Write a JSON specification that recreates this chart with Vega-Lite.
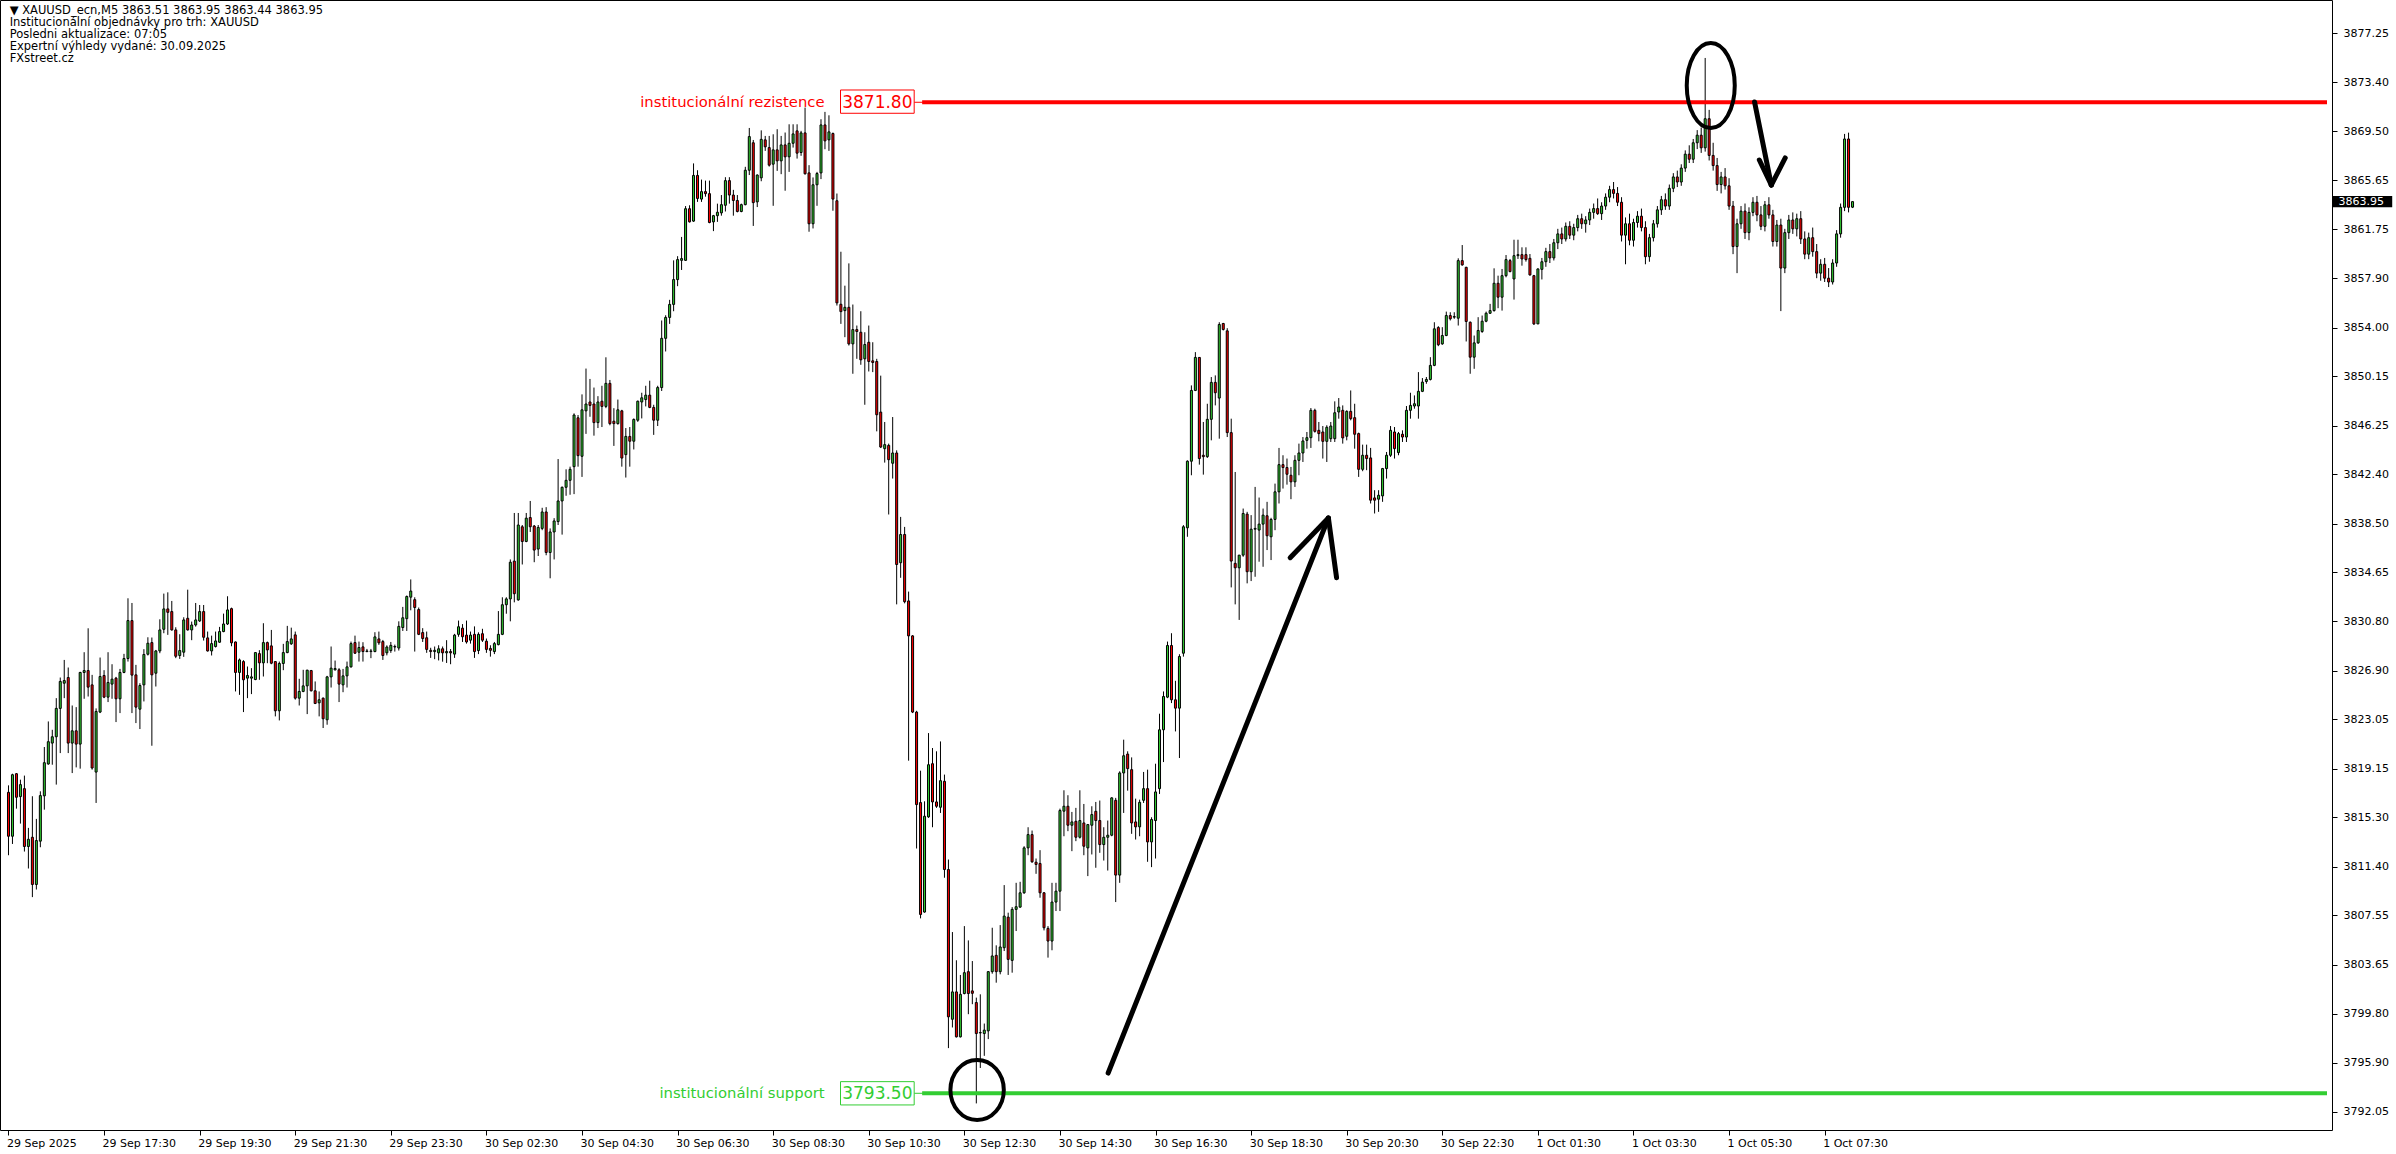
{
"$schema":"https://vega.github.io/schema/vega-lite/v6.json",
"width":2332,"height":1130,
"autosize":{"type":"none"},
"padding":{"left":0,"top":0,"right":64,"bottom":24},
"background":"white",
"config":{"view":{"stroke":"black","strokeWidth":1}},
"datasets":{
"candles":[
{"i":0,"o":3817.28,"h":3817.83,"l":3812.31,"c":3813.81},
{"i":1,"o":3813.81,"h":3818.75,"l":3813.2,"c":3818.67},
{"i":2,"o":3818.75,"h":3818.8,"l":3815.99,"c":3816.89},
{"i":3,"o":3816.94,"h":3818.28,"l":3814.81,"c":3817.89},
{"i":4,"o":3817.57,"h":3818.6,"l":3812.6,"c":3813.0},
{"i":5,"o":3813.0,"h":3814.47,"l":3811.26,"c":3813.57},
{"i":6,"o":3813.73,"h":3816.97,"l":3809.0,"c":3810.0},
{"i":7,"o":3810.0,"h":3815.18,"l":3809.6,"c":3813.47},
{"i":8,"o":3813.42,"h":3817.36,"l":3812.94,"c":3817.02},
{"i":9,"o":3817.0,"h":3820.86,"l":3815.91,"c":3819.62},
{"i":10,"o":3819.52,"h":3822.88,"l":3819.46,"c":3821.28},
{"i":11,"o":3821.17,"h":3822.22,"l":3819.46,"c":3821.67},
{"i":12,"o":3821.67,"h":3824.72,"l":3817.89,"c":3823.91},
{"i":13,"o":3823.91,"h":3826.35,"l":3820.38,"c":3826.04},
{"i":14,"o":3825.9,"h":3827.74,"l":3824.72,"c":3826.11},
{"i":15,"o":3826.35,"h":3827.14,"l":3820.38,"c":3821.17},
{"i":16,"o":3821.17,"h":3824.14,"l":3818.8,"c":3822.14},
{"i":17,"o":3822.14,"h":3824.01,"l":3819.25,"c":3821.09},
{"i":18,"o":3821.09,"h":3826.8,"l":3819.15,"c":3826.75},
{"i":19,"o":3826.75,"h":3828.35,"l":3824.67,"c":3826.9},
{"i":20,"o":3826.9,"h":3830.24,"l":3824.85,"c":3825.59},
{"i":21,"o":3825.77,"h":3826.56,"l":3819.07,"c":3819.2},
{"i":22,"o":3818.88,"h":3823.91,"l":3816.44,"c":3823.67},
{"i":23,"o":3823.62,"h":3827.93,"l":3823.54,"c":3826.43},
{"i":24,"o":3826.51,"h":3826.93,"l":3824.72,"c":3824.8},
{"i":25,"o":3824.8,"h":3828.35,"l":3824.41,"c":3825.96},
{"i":26,"o":3825.83,"h":3827.4,"l":3824.67,"c":3826.22},
{"i":27,"o":3826.3,"h":3826.4,"l":3822.83,"c":3824.67},
{"i":28,"o":3824.67,"h":3827.03,"l":3823.54,"c":3826.75},
{"i":29,"o":3826.75,"h":3828.22,"l":3826.69,"c":3827.85},
{"i":30,"o":3827.85,"h":3832.61,"l":3827.61,"c":3830.85},
{"i":31,"o":3830.85,"h":3832.24,"l":3823.54,"c":3826.54},
{"i":32,"o":3826.56,"h":3827.35,"l":3822.75,"c":3824.01},
{"i":33,"o":3823.85,"h":3825.9,"l":3822.28,"c":3825.72},
{"i":34,"o":3825.77,"h":3828.59,"l":3824.46,"c":3828.17},
{"i":35,"o":3828.19,"h":3829.53,"l":3828.09,"c":3829.06},
{"i":36,"o":3829.11,"h":3829.51,"l":3820.96,"c":3826.56},
{"i":37,"o":3826.69,"h":3828.53,"l":3825.64,"c":3828.45},
{"i":38,"o":3828.45,"h":3830.95,"l":3828.27,"c":3830.11},
{"i":39,"o":3830.16,"h":3832.98,"l":3829.85,"c":3831.77},
{"i":40,"o":3831.77,"h":3833.08,"l":3829.72,"c":3831.5},
{"i":41,"o":3831.56,"h":3832.4,"l":3830.06,"c":3830.11},
{"i":42,"o":3830.11,"h":3830.32,"l":3827.88,"c":3828.03},
{"i":43,"o":3828.09,"h":3829.77,"l":3827.82,"c":3828.48},
{"i":44,"o":3828.35,"h":3831.11,"l":3827.98,"c":3830.9},
{"i":45,"o":3831.03,"h":3833.29,"l":3830.06,"c":3830.11},
{"i":46,"o":3830.11,"h":3830.77,"l":3829.3,"c":3830.5},
{"i":47,"o":3830.5,"h":3832.24,"l":3830.37,"c":3830.9},
{"i":48,"o":3830.82,"h":3832.08,"l":3830.74,"c":3831.56},
{"i":49,"o":3831.56,"h":3832.08,"l":3829.27,"c":3829.53},
{"i":50,"o":3829.48,"h":3829.98,"l":3828.4,"c":3828.45},
{"i":51,"o":3828.45,"h":3829.66,"l":3828.09,"c":3829.03},
{"i":52,"o":3828.8,"h":3829.98,"l":3828.72,"c":3829.24},
{"i":53,"o":3829.14,"h":3830.35,"l":3829.09,"c":3829.98},
{"i":54,"o":3829.98,"h":3831.4,"l":3829.93,"c":3830.58},
{"i":55,"o":3830.58,"h":3832.77,"l":3830.5,"c":3831.69},
{"i":56,"o":3831.79,"h":3831.87,"l":3828.82,"c":3829.09},
{"i":57,"o":3829.16,"h":3829.19,"l":3825.25,"c":3826.75},
{"i":58,"o":3826.75,"h":3827.85,"l":3824.98,"c":3827.74},
{"i":59,"o":3827.61,"h":3827.72,"l":3823.62,"c":3826.17},
{"i":60,"o":3826.3,"h":3827.22,"l":3824.72,"c":3826.51},
{"i":61,"o":3826.3,"h":3827.09,"l":3825.04,"c":3826.4},
{"i":62,"o":3826.19,"h":3828.35,"l":3826.14,"c":3828.32},
{"i":63,"o":3828.24,"h":3828.51,"l":3826.17,"c":3827.51},
{"i":64,"o":3827.51,"h":3830.64,"l":3826.43,"c":3829.11},
{"i":65,"o":3829.11,"h":3829.19,"l":3827.48,"c":3828.53},
{"i":66,"o":3828.85,"h":3830.11,"l":3827.4,"c":3827.48},
{"i":67,"o":3827.61,"h":3827.65,"l":3823.28,"c":3823.72},
{"i":68,"o":3823.72,"h":3827.61,"l":3822.96,"c":3827.46},
{"i":69,"o":3827.46,"h":3829.01,"l":3826.93,"c":3828.32},
{"i":70,"o":3828.32,"h":3830.43,"l":3828.27,"c":3829.19},
{"i":71,"o":3829.01,"h":3830.29,"l":3828.93,"c":3829.4},
{"i":72,"o":3829.72,"h":3829.98,"l":3824.6,"c":3824.72},
{"i":73,"o":3824.72,"h":3826.25,"l":3824.14,"c":3825.25},
{"i":74,"o":3825.25,"h":3826.96,"l":3825.19,"c":3825.69},
{"i":75,"o":3825.69,"h":3826.96,"l":3823.46,"c":3826.93},
{"i":76,"o":3826.9,"h":3826.95,"l":3825.25,"c":3825.3},
{"i":77,"o":3825.3,"h":3826.04,"l":3824.25,"c":3824.3},
{"i":78,"o":3824.35,"h":3825.25,"l":3823.28,"c":3824.59},
{"i":79,"o":3824.72,"h":3824.77,"l":3822.36,"c":3823.09},
{"i":80,"o":3823.01,"h":3826.48,"l":3822.62,"c":3826.4},
{"i":81,"o":3826.4,"h":3828.8,"l":3825.56,"c":3827.09},
{"i":82,"o":3826.96,"h":3827.69,"l":3826.9,"c":3827.06},
{"i":83,"o":3826.96,"h":3827.09,"l":3824.41,"c":3825.83},
{"i":84,"o":3825.77,"h":3827.03,"l":3825.19,"c":3826.48},
{"i":85,"o":3826.48,"h":3827.61,"l":3825.56,"c":3827.19},
{"i":86,"o":3827.19,"h":3829.19,"l":3827.14,"c":3829.03},
{"i":87,"o":3829.11,"h":3829.66,"l":3828.22,"c":3828.27},
{"i":88,"o":3828.35,"h":3829.19,"l":3827.61,"c":3828.72},
{"i":89,"o":3828.77,"h":3829.14,"l":3827.61,"c":3828.4},
{"i":90,"o":3828.4,"h":3828.61,"l":3828.35,"c":3828.45},
{"i":91,"o":3828.4,"h":3828.61,"l":3827.88,"c":3828.45},
{"i":92,"o":3828.4,"h":3829.93,"l":3828.35,"c":3829.56},
{"i":93,"o":3829.4,"h":3829.98,"l":3828.93,"c":3829.09},
{"i":94,"o":3829.19,"h":3829.32,"l":3827.74,"c":3828.09},
{"i":95,"o":3828.3,"h":3828.89,"l":3828.1,"c":3828.76},
{"i":96,"o":3828.48,"h":3829.16,"l":3828.3,"c":3828.89},
{"i":97,"o":3828.76,"h":3828.95,"l":3828.4,"c":3828.8},
{"i":98,"o":3828.68,"h":3830.79,"l":3828.48,"c":3830.39},
{"i":99,"o":3830.3,"h":3831.93,"l":3830.03,"c":3831.07},
{"i":100,"o":3831.0,"h":3832.83,"l":3830.03,"c":3832.75},
{"i":101,"o":3832.7,"h":3834.1,"l":3831.66,"c":3833.18},
{"i":102,"o":3832.5,"h":3832.69,"l":3828.4,"c":3831.88},
{"i":103,"o":3831.72,"h":3831.88,"l":3829.7,"c":3829.76},
{"i":104,"o":3829.9,"h":3830.25,"l":3829.16,"c":3829.43},
{"i":105,"o":3829.49,"h":3829.98,"l":3828.3,"c":3828.57},
{"i":106,"o":3828.5,"h":3828.7,"l":3827.9,"c":3828.4},
{"i":107,"o":3828.4,"h":3828.8,"l":3827.8,"c":3828.5},
{"i":108,"o":3828.3,"h":3828.9,"l":3827.7,"c":3828.62},
{"i":109,"o":3828.62,"h":3828.8,"l":3827.6,"c":3828.3},
{"i":110,"o":3828.3,"h":3829.3,"l":3827.5,"c":3828.4},
{"i":111,"o":3828.4,"h":3828.6,"l":3827.4,"c":3828.3},
{"i":112,"o":3828.2,"h":3829.8,"l":3827.9,"c":3829.7},
{"i":113,"o":3829.76,"h":3830.85,"l":3829.57,"c":3830.36},
{"i":114,"o":3830.25,"h":3830.57,"l":3829.16,"c":3829.57},
{"i":115,"o":3829.7,"h":3830.85,"l":3829.03,"c":3829.16},
{"i":116,"o":3829.3,"h":3829.98,"l":3829.03,"c":3829.7},
{"i":117,"o":3829.76,"h":3830.39,"l":3827.9,"c":3828.4},
{"i":118,"o":3828.48,"h":3829.92,"l":3828.2,"c":3829.76},
{"i":119,"o":3829.81,"h":3830.2,"l":3829.16,"c":3829.3},
{"i":120,"o":3829.22,"h":3829.43,"l":3828.3,"c":3828.57},
{"i":121,"o":3828.65,"h":3828.9,"l":3828.0,"c":3828.5},
{"i":122,"o":3828.4,"h":3829.16,"l":3828.2,"c":3829.03},
{"i":123,"o":3828.95,"h":3831.6,"l":3828.89,"c":3829.76},
{"i":124,"o":3829.76,"h":3832.69,"l":3829.7,"c":3832.1},
{"i":125,"o":3832.1,"h":3832.69,"l":3831.39,"c":3832.56},
{"i":126,"o":3832.56,"h":3835.68,"l":3830.79,"c":3835.46},
{"i":127,"o":3835.55,"h":3839.35,"l":3832.29,"c":3832.97},
{"i":128,"o":3832.48,"h":3839.35,"l":3832.42,"c":3838.4},
{"i":129,"o":3838.26,"h":3838.4,"l":3835.28,"c":3837.1},
{"i":130,"o":3837.1,"h":3839.35,"l":3837.04,"c":3838.94},
{"i":131,"o":3838.99,"h":3840.3,"l":3837.85,"c":3838.26},
{"i":132,"o":3838.32,"h":3838.4,"l":3835.46,"c":3836.42},
{"i":133,"o":3836.5,"h":3838.4,"l":3835.95,"c":3838.21},
{"i":134,"o":3838.13,"h":3839.76,"l":3837.99,"c":3839.43},
{"i":135,"o":3839.43,"h":3839.81,"l":3836.01,"c":3836.23},
{"i":136,"o":3836.23,"h":3838.13,"l":3834.19,"c":3837.85},
{"i":137,"o":3837.85,"h":3838.94,"l":3835.68,"c":3838.72},
{"i":138,"o":3838.67,"h":3843.61,"l":3838.4,"c":3840.3},
{"i":139,"o":3840.3,"h":3841.44,"l":3837.64,"c":3841.38},
{"i":140,"o":3841.38,"h":3842.8,"l":3840.71,"c":3841.93},
{"i":141,"o":3841.93,"h":3843.01,"l":3840.79,"c":3842.8},
{"i":142,"o":3843.01,"h":3847.22,"l":3840.84,"c":3847.09},
{"i":143,"o":3846.87,"h":3847.09,"l":3843.01,"c":3843.88},
{"i":144,"o":3843.83,"h":3848.72,"l":3842.2,"c":3847.5},
{"i":145,"o":3847.42,"h":3850.76,"l":3845.6,"c":3847.96},
{"i":146,"o":3848.12,"h":3849.94,"l":3846.95,"c":3847.85},
{"i":147,"o":3847.96,"h":3849.26,"l":3845.46,"c":3846.49},
{"i":148,"o":3846.49,"h":3848.58,"l":3846.06,"c":3848.12},
{"i":149,"o":3848.18,"h":3849.4,"l":3846.14,"c":3847.77},
{"i":150,"o":3847.77,"h":3851.65,"l":3847.63,"c":3849.59},
{"i":151,"o":3849.59,"h":3849.86,"l":3846.28,"c":3846.41},
{"i":152,"o":3846.6,"h":3847.63,"l":3844.65,"c":3846.41},
{"i":153,"o":3846.41,"h":3848.31,"l":3846.33,"c":3847.5},
{"i":154,"o":3847.42,"h":3847.5,"l":3843.01,"c":3843.69},
{"i":155,"o":3843.96,"h":3846.06,"l":3842.15,"c":3845.4},
{"i":156,"o":3845.4,"h":3846.14,"l":3843.01,"c":3845.02},
{"i":157,"o":3845.02,"h":3846.82,"l":3844.37,"c":3846.74},
{"i":158,"o":3846.68,"h":3848.23,"l":3846.55,"c":3848.18},
{"i":159,"o":3848.12,"h":3848.85,"l":3846.82,"c":3848.45},
{"i":160,"o":3848.31,"h":3849.4,"l":3847.77,"c":3848.66},
{"i":161,"o":3848.66,"h":3849.8,"l":3847.63,"c":3847.69},
{"i":162,"o":3847.69,"h":3847.9,"l":3845.52,"c":3846.68},
{"i":163,"o":3846.68,"h":3849.4,"l":3846.22,"c":3849.26},
{"i":164,"o":3849.26,"h":3854.56,"l":3848.99,"c":3853.15},
{"i":165,"o":3853.15,"h":3854.97,"l":3852.11,"c":3854.8},
{"i":166,"o":3854.8,"h":3856.19,"l":3854.29,"c":3855.83},
{"i":167,"o":3855.83,"h":3859.31,"l":3855.29,"c":3857.79},
{"i":168,"o":3857.79,"h":3859.64,"l":3857.27,"c":3859.37},
{"i":169,"o":3859.31,"h":3861.16,"l":3858.55,"c":3859.45},
{"i":170,"o":3859.31,"h":3863.6,"l":3859.26,"c":3863.39},
{"i":171,"o":3863.39,"h":3863.66,"l":3862.3,"c":3862.35},
{"i":172,"o":3862.41,"h":3866.97,"l":3862.35,"c":3866.02},
{"i":173,"o":3866.02,"h":3866.43,"l":3863.93,"c":3864.2},
{"i":174,"o":3864.15,"h":3865.69,"l":3863.93,"c":3864.74},
{"i":175,"o":3864.74,"h":3865.61,"l":3864.34,"c":3864.58},
{"i":176,"o":3864.58,"h":3865.61,"l":3862.24,"c":3862.3},
{"i":177,"o":3862.35,"h":3862.9,"l":3861.62,"c":3862.84},
{"i":178,"o":3862.84,"h":3863.79,"l":3862.35,"c":3863.11},
{"i":179,"o":3863.06,"h":3864.47,"l":3862.84,"c":3863.71},
{"i":180,"o":3863.66,"h":3865.88,"l":3863.17,"c":3865.61},
{"i":181,"o":3865.61,"h":3865.88,"l":3863.79,"c":3864.47},
{"i":182,"o":3864.47,"h":3864.88,"l":3862.84,"c":3864.04},
{"i":183,"o":3864.04,"h":3864.47,"l":3863.1,"c":3863.17},
{"i":184,"o":3863.17,"h":3863.79,"l":3863.11,"c":3863.71},
{"i":185,"o":3863.71,"h":3866.7,"l":3863.66,"c":3866.43},
{"i":186,"o":3866.43,"h":3869.77,"l":3866.05,"c":3869.09},
{"i":187,"o":3868.6,"h":3868.82,"l":3862.03,"c":3863.87},
{"i":188,"o":3863.93,"h":3866.1,"l":3863.52,"c":3866.05},
{"i":189,"o":3865.83,"h":3869.58,"l":3865.56,"c":3868.87},
{"i":190,"o":3868.83,"h":3869.14,"l":3867.96,"c":3868.28},
{"i":191,"o":3868.22,"h":3869.14,"l":3866.72,"c":3866.83},
{"i":192,"o":3866.91,"h":3869.27,"l":3863.62,"c":3868.04},
{"i":193,"o":3868.04,"h":3869.67,"l":3866.38,"c":3867.17},
{"i":194,"o":3867.17,"h":3869.14,"l":3866.12,"c":3868.43},
{"i":195,"o":3868.43,"h":3869.41,"l":3864.81,"c":3867.49},
{"i":196,"o":3867.49,"h":3870.06,"l":3866.3,"c":3868.56},
{"i":197,"o":3868.56,"h":3870.06,"l":3868.22,"c":3869.3},
{"i":198,"o":3869.54,"h":3870.06,"l":3867.35,"c":3867.78},
{"i":199,"o":3867.83,"h":3869.54,"l":3867.57,"c":3869.38},
{"i":200,"o":3869.38,"h":3871.38,"l":3866.09,"c":3866.15},
{"i":201,"o":3866.22,"h":3866.83,"l":3861.57,"c":3862.2},
{"i":202,"o":3862.2,"h":3865.86,"l":3861.83,"c":3865.28},
{"i":203,"o":3865.28,"h":3866.3,"l":3863.62,"c":3866.17},
{"i":204,"o":3866.22,"h":3870.46,"l":3865.73,"c":3870.01},
{"i":205,"o":3870.01,"h":3871.04,"l":3868.09,"c":3868.75},
{"i":206,"o":3868.83,"h":3870.77,"l":3867.96,"c":3869.46},
{"i":207,"o":3869.33,"h":3869.41,"l":3863.23,"c":3864.15},
{"i":208,"o":3864.02,"h":3864.59,"l":3855.74,"c":3855.95},
{"i":209,"o":3855.84,"h":3859.99,"l":3854.29,"c":3855.26},
{"i":210,"o":3855.34,"h":3857.31,"l":3853.24,"c":3855.6},
{"i":211,"o":3855.6,"h":3859.07,"l":3852.58,"c":3852.71},
{"i":212,"o":3852.71,"h":3855.82,"l":3850.35,"c":3853.84},
{"i":213,"o":3853.84,"h":3854.16,"l":3851.53,"c":3853.69},
{"i":214,"o":3853.63,"h":3855.29,"l":3851.06,"c":3851.45},
{"i":215,"o":3851.53,"h":3853.63,"l":3847.9,"c":3852.66},
{"i":216,"o":3852.84,"h":3854.16,"l":3850.53,"c":3851.32},
{"i":217,"o":3851.37,"h":3852.84,"l":3850.48,"c":3851.24},
{"i":218,"o":3851.32,"h":3851.53,"l":3845.8,"c":3847.11},
{"i":219,"o":3847.32,"h":3850.2,"l":3844.48,"c":3844.56},
{"i":220,"o":3844.43,"h":3846.54,"l":3843.33,"c":3844.75},
{"i":221,"o":3844.69,"h":3844.83,"l":3839.23,"c":3843.56},
{"i":222,"o":3843.28,"h":3846.93,"l":3842.07,"c":3844.09},
{"i":223,"o":3844.09,"h":3844.3,"l":3832.13,"c":3835.28},
{"i":224,"o":3835.42,"h":3839.04,"l":3834.23,"c":3837.65},
{"i":225,"o":3837.65,"h":3838.25,"l":3832.21,"c":3832.34},
{"i":226,"o":3832.4,"h":3833.14,"l":3819.78,"c":3829.64},
{"i":227,"o":3829.64,"h":3829.7,"l":3823.54,"c":3823.62},
{"i":228,"o":3823.62,"h":3823.72,"l":3812.84,"c":3816.31},
{"i":229,"o":3816.47,"h":3818.99,"l":3807.32,"c":3807.63},
{"i":230,"o":3807.82,"h":3816.57,"l":3807.77,"c":3815.39},
{"i":231,"o":3815.34,"h":3821.96,"l":3815.26,"c":3819.46},
{"i":232,"o":3819.54,"h":3820.78,"l":3814.52,"c":3816.52},
{"i":233,"o":3816.52,"h":3820.52,"l":3816.05,"c":3816.18},
{"i":234,"o":3816.1,"h":3821.3,"l":3815.65,"c":3818.2},
{"i":235,"o":3818.15,"h":3818.68,"l":3810.53,"c":3811.18},
{"i":236,"o":3811.18,"h":3811.97,"l":3797.07,"c":3799.54},
{"i":237,"o":3799.35,"h":3806.24,"l":3798.7,"c":3801.51},
{"i":238,"o":3801.51,"h":3804.01,"l":3797.91,"c":3797.96},
{"i":239,"o":3797.96,"h":3802.85,"l":3797.91,"c":3801.32},
{"i":240,"o":3801.38,"h":3806.71,"l":3801.32,"c":3803.03},
{"i":241,"o":3803.11,"h":3805.58,"l":3799.75,"c":3801.38},
{"i":242,"o":3801.59,"h":3803.95,"l":3800.54,"c":3801.4},
{"i":243,"o":3800.67,"h":3801.06,"l":3792.7,"c":3798.22},
{"i":244,"o":3798.27,"h":3801.32,"l":3795.5,"c":3798.3},
{"i":245,"o":3798.22,"h":3799.01,"l":3796.46,"c":3798.49},
{"i":246,"o":3798.43,"h":3803.16,"l":3797.78,"c":3803.11},
{"i":247,"o":3803.11,"h":3806.58,"l":3802.95,"c":3804.35},
{"i":248,"o":3804.4,"h":3805.19,"l":3802.24,"c":3803.11},
{"i":249,"o":3803.11,"h":3806.79,"l":3802.9,"c":3805.06},
{"i":250,"o":3805.0,"h":3809.95,"l":3804.74,"c":3807.5},
{"i":251,"o":3807.42,"h":3807.77,"l":3802.85,"c":3804.08},
{"i":252,"o":3804.0,"h":3808.21,"l":3803.03,"c":3808.03},
{"i":253,"o":3808.03,"h":3810.13,"l":3806.32,"c":3808.24},
{"i":254,"o":3808.21,"h":3810.21,"l":3808.16,"c":3809.34},
{"i":255,"o":3809.34,"h":3813.02,"l":3809.26,"c":3812.89},
{"i":256,"o":3812.89,"h":3814.52,"l":3812.31,"c":3813.94},
{"i":257,"o":3813.94,"h":3814.26,"l":3811.71,"c":3811.79},
{"i":258,"o":3811.76,"h":3812.05,"l":3810.84,"c":3811.58},
{"i":259,"o":3811.66,"h":3812.71,"l":3808.95,"c":3809.34},
{"i":260,"o":3809.34,"h":3809.4,"l":3806.37,"c":3806.58},
{"i":261,"o":3806.53,"h":3806.71,"l":3804.22,"c":3805.53},
{"i":262,"o":3805.53,"h":3810.13,"l":3804.8,"c":3808.61},
{"i":263,"o":3808.61,"h":3810.13,"l":3807.9,"c":3809.47},
{"i":264,"o":3809.47,"h":3815.99,"l":3807.9,"c":3815.84},
{"i":265,"o":3815.79,"h":3817.44,"l":3813.81,"c":3816.18},
{"i":266,"o":3816.18,"h":3817.05,"l":3814.21,"c":3814.68},
{"i":267,"o":3814.68,"h":3815.73,"l":3812.63,"c":3814.94},
{"i":268,"o":3814.99,"h":3816.05,"l":3813.42,"c":3813.73},
{"i":269,"o":3813.73,"h":3817.44,"l":3813.63,"c":3815.05},
{"i":270,"o":3814.86,"h":3816.36,"l":3812.31,"c":3813.02},
{"i":271,"o":3812.89,"h":3814.78,"l":3810.66,"c":3814.73},
{"i":272,"o":3814.68,"h":3816.18,"l":3812.37,"c":3815.52},
{"i":273,"o":3815.78,"h":3816.52,"l":3811.32,"c":3815.05},
{"i":274,"o":3815.05,"h":3816.63,"l":3812.5,"c":3813.15},
{"i":275,"o":3813.15,"h":3814.52,"l":3811.89,"c":3813.73},
{"i":276,"o":3813.73,"h":3815.05,"l":3811.1,"c":3813.89},
{"i":277,"o":3813.89,"h":3816.89,"l":3813.81,"c":3816.84},
{"i":278,"o":3816.65,"h":3816.84,"l":3808.61,"c":3810.74},
{"i":279,"o":3810.74,"h":3818.94,"l":3810.13,"c":3818.81},
{"i":280,"o":3818.81,"h":3821.44,"l":3815.65,"c":3820.17},
{"i":281,"o":3820.3,"h":3820.52,"l":3817.41,"c":3819.15},
{"i":282,"o":3819.07,"h":3820.04,"l":3814.0,"c":3814.86},
{"i":283,"o":3814.94,"h":3816.78,"l":3813.55,"c":3814.55},
{"i":284,"o":3814.55,"h":3816.7,"l":3813.81,"c":3816.49},
{"i":285,"o":3816.65,"h":3818.89,"l":3816.44,"c":3817.57},
{"i":286,"o":3817.57,"h":3819.07,"l":3811.79,"c":3813.36},
{"i":287,"o":3813.36,"h":3815.31,"l":3811.37,"c":3815.13},
{"i":288,"o":3815.05,"h":3819.54,"l":3812.05,"c":3817.31},
{"i":289,"o":3817.57,"h":3823.49,"l":3817.15,"c":3822.22},
{"i":290,"o":3822.22,"h":3825.25,"l":3819.67,"c":3824.85},
{"i":291,"o":3824.8,"h":3829.19,"l":3824.72,"c":3828.88},
{"i":292,"o":3828.88,"h":3829.85,"l":3824.33,"c":3824.59},
{"i":293,"o":3824.59,"h":3826.09,"l":3822.09,"c":3823.93},
{"i":294,"o":3823.93,"h":3828.19,"l":3819.99,"c":3828.01},
{"i":295,"o":3828.27,"h":3838.39,"l":3828.0,"c":3838.26},
{"i":296,"o":3838.18,"h":3843.51,"l":3837.47,"c":3843.44},
{"i":297,"o":3843.44,"h":3849.43,"l":3842.33,"c":3849.03},
{"i":298,"o":3849.03,"h":3852.06,"l":3848.98,"c":3851.64},
{"i":299,"o":3851.64,"h":3851.66,"l":3843.17,"c":3843.65},
{"i":300,"o":3843.91,"h":3846.54,"l":3842.38,"c":3843.8},
{"i":301,"o":3843.8,"h":3847.98,"l":3843.7,"c":3846.75},
{"i":302,"o":3846.75,"h":3850.09,"l":3845.09,"c":3849.67},
{"i":303,"o":3849.67,"h":3850.22,"l":3847.85,"c":3848.85},
{"i":304,"o":3848.43,"h":3854.42,"l":3845.22,"c":3854.24},
{"i":305,"o":3854.32,"h":3854.37,"l":3853.77,"c":3853.85},
{"i":306,"o":3853.74,"h":3853.95,"l":3845.35,"c":3845.7},
{"i":307,"o":3845.7,"h":3846.8,"l":3833.47,"c":3835.55},
{"i":308,"o":3835.37,"h":3842.59,"l":3832.13,"c":3835.02},
{"i":309,"o":3835.02,"h":3836.02,"l":3830.9,"c":3836.02},
{"i":310,"o":3836.02,"h":3839.7,"l":3835.89,"c":3839.31},
{"i":311,"o":3839.26,"h":3839.44,"l":3833.79,"c":3834.71},
{"i":312,"o":3834.71,"h":3839.18,"l":3833.97,"c":3838.07},
{"i":313,"o":3838.07,"h":3841.41,"l":3834.31,"c":3838.13},
{"i":314,"o":3838.0,"h":3840.57,"l":3835.5,"c":3838.47},
{"i":315,"o":3838.47,"h":3839.7,"l":3835.1,"c":3839.18},
{"i":316,"o":3839.13,"h":3840.23,"l":3836.42,"c":3837.55},
{"i":317,"o":3837.47,"h":3838.97,"l":3835.63,"c":3838.84},
{"i":318,"o":3838.84,"h":3841.67,"l":3837.99,"c":3841.02},
{"i":319,"o":3841.02,"h":3844.49,"l":3840.1,"c":3843.17},
{"i":320,"o":3843.17,"h":3843.91,"l":3841.28,"c":3842.94},
{"i":321,"o":3842.94,"h":3843.65,"l":3841.59,"c":3842.41},
{"i":322,"o":3842.33,"h":3842.99,"l":3840.44,"c":3841.81},
{"i":323,"o":3841.81,"h":3843.91,"l":3841.41,"c":3843.51},
{"i":324,"o":3843.51,"h":3844.83,"l":3842.33,"c":3844.09},
{"i":325,"o":3844.09,"h":3845.35,"l":3843.38,"c":3845.04},
{"i":326,"o":3845.09,"h":3845.75,"l":3844.43,"c":3845.3},
{"i":327,"o":3845.3,"h":3847.64,"l":3844.49,"c":3847.46},
{"i":328,"o":3847.46,"h":3847.59,"l":3845.7,"c":3845.8},
{"i":329,"o":3845.88,"h":3846.54,"l":3845.01,"c":3845.62},
{"i":330,"o":3845.75,"h":3846.22,"l":3843.65,"c":3845.01},
{"i":331,"o":3845.01,"h":3846.28,"l":3843.38,"c":3846.12},
{"i":332,"o":3845.22,"h":3846.54,"l":3844.96,"c":3846.22},
{"i":333,"o":3845.22,"h":3848.17,"l":3844.96,"c":3847.27},
{"i":334,"o":3847.33,"h":3848.43,"l":3846.8,"c":3847.72},
{"i":335,"o":3847.46,"h":3847.85,"l":3844.83,"c":3845.28},
{"i":336,"o":3845.41,"h":3847.46,"l":3845.09,"c":3847.38},
{"i":337,"o":3847.38,"h":3849.03,"l":3846.67,"c":3846.8},
{"i":338,"o":3846.88,"h":3847.98,"l":3844.43,"c":3845.57},
{"i":339,"o":3845.62,"h":3845.7,"l":3842.2,"c":3842.8},
{"i":340,"o":3842.8,"h":3844.75,"l":3842.65,"c":3843.91},
{"i":341,"o":3843.91,"h":3844.75,"l":3842.73,"c":3843.65},
{"i":342,"o":3843.7,"h":3844.49,"l":3840.1,"c":3840.36},
{"i":343,"o":3840.54,"h":3841.15,"l":3839.31,"c":3840.36},
{"i":344,"o":3840.44,"h":3841.15,"l":3839.44,"c":3840.75},
{"i":345,"o":3840.7,"h":3842.91,"l":3840.23,"c":3842.86},
{"i":346,"o":3842.86,"h":3844.17,"l":3842.07,"c":3843.91},
{"i":347,"o":3843.91,"h":3846.22,"l":3843.78,"c":3845.88},
{"i":348,"o":3845.75,"h":3846.14,"l":3843.65,"c":3844.43},
{"i":349,"o":3844.12,"h":3845.75,"l":3843.91,"c":3845.62},
{"i":350,"o":3845.57,"h":3845.88,"l":3844.96,"c":3845.35},
{"i":351,"o":3845.35,"h":3847.8,"l":3844.96,"c":3847.46},
{"i":352,"o":3847.46,"h":3848.85,"l":3846.8,"c":3847.85},
{"i":353,"o":3847.8,"h":3848.64,"l":3847.59,"c":3847.98},
{"i":354,"o":3847.8,"h":3850.48,"l":3846.8,"c":3848.96},
{"i":355,"o":3848.96,"h":3850.01,"l":3848.9,"c":3849.69},
{"i":356,"o":3849.74,"h":3850.09,"l":3849.56,"c":3849.9},
{"i":357,"o":3849.9,"h":3851.66,"l":3849.82,"c":3851.01},
{"i":358,"o":3851.01,"h":3854.42,"l":3850.95,"c":3853.9},
{"i":359,"o":3854.0,"h":3854.11,"l":3852.53,"c":3852.64},
{"i":360,"o":3852.71,"h":3854.03,"l":3852.64,"c":3853.37},
{"i":361,"o":3853.37,"h":3855.26,"l":3853.32,"c":3854.95},
{"i":362,"o":3854.95,"h":3855.21,"l":3854.56,"c":3854.69},
{"i":363,"o":3854.82,"h":3855.21,"l":3854.69,"c":3854.87},
{"i":364,"o":3854.74,"h":3859.47,"l":3854.16,"c":3859.29},
{"i":365,"o":3859.29,"h":3860.52,"l":3858.89,"c":3858.95},
{"i":366,"o":3858.76,"h":3858.8,"l":3852.9,"c":3854.48},
{"i":367,"o":3854.42,"h":3854.48,"l":3850.35,"c":3851.66},
{"i":368,"o":3851.66,"h":3853.37,"l":3850.74,"c":3852.79},
{"i":369,"o":3852.79,"h":3854.82,"l":3852.71,"c":3853.77},
{"i":370,"o":3853.69,"h":3854.95,"l":3853.58,"c":3854.5},
{"i":371,"o":3854.5,"h":3855.26,"l":3854.42,"c":3855.13},
{"i":372,"o":3855.13,"h":3855.87,"l":3855.08,"c":3855.34},
{"i":373,"o":3855.34,"h":3858.68,"l":3855.26,"c":3857.5},
{"i":374,"o":3857.5,"h":3858.1,"l":3855.53,"c":3856.4},
{"i":375,"o":3856.4,"h":3858.63,"l":3855.34,"c":3858.1},
{"i":376,"o":3858.1,"h":3859.73,"l":3857.97,"c":3859.37},
{"i":377,"o":3859.29,"h":3859.42,"l":3858.37,"c":3858.42},
{"i":378,"o":3857.84,"h":3860.94,"l":3856.21,"c":3859.68},
{"i":379,"o":3859.68,"h":3860.94,"l":3859.42,"c":3859.76},
{"i":380,"o":3859.76,"h":3860.34,"l":3858.89,"c":3859.42},
{"i":381,"o":3859.76,"h":3860.34,"l":3859.21,"c":3859.37},
{"i":382,"o":3859.47,"h":3859.81,"l":3858.1,"c":3858.16},
{"i":383,"o":3858.1,"h":3858.16,"l":3854.2,"c":3854.29},
{"i":384,"o":3854.29,"h":3858.68,"l":3854.27,"c":3858.63},
{"i":385,"o":3858.6,"h":3859.5,"l":3857.8,"c":3859.2},
{"i":386,"o":3859.2,"h":3860.3,"l":3858.8,"c":3860.0},
{"i":387,"o":3860.0,"h":3860.6,"l":3859.1,"c":3859.5},
{"i":388,"o":3859.5,"h":3861.0,"l":3859.3,"c":3860.7},
{"i":389,"o":3860.7,"h":3861.8,"l":3860.2,"c":3861.4},
{"i":390,"o":3861.4,"h":3861.9,"l":3860.6,"c":3861.0},
{"i":391,"o":3861.0,"h":3862.3,"l":3860.8,"c":3862.0},
{"i":392,"o":3862.0,"h":3862.4,"l":3861.0,"c":3861.3},
{"i":393,"o":3861.3,"h":3862.2,"l":3860.9,"c":3861.9},
{"i":394,"o":3861.9,"h":3862.9,"l":3861.6,"c":3862.6},
{"i":395,"o":3862.6,"h":3863.0,"l":3861.8,"c":3862.2},
{"i":396,"o":3862.2,"h":3862.8,"l":3861.5,"c":3862.5},
{"i":397,"o":3862.5,"h":3863.4,"l":3862.1,"c":3863.1},
{"i":398,"o":3863.1,"h":3863.8,"l":3862.6,"c":3863.4},
{"i":399,"o":3863.4,"h":3864.2,"l":3862.9,"c":3863.0},
{"i":400,"o":3863.0,"h":3863.9,"l":3862.5,"c":3863.6},
{"i":401,"o":3863.6,"h":3864.6,"l":3863.3,"c":3864.3},
{"i":402,"o":3864.3,"h":3865.2,"l":3863.9,"c":3864.9},
{"i":403,"o":3864.9,"h":3865.5,"l":3864.2,"c":3864.6},
{"i":404,"o":3864.6,"h":3865.1,"l":3863.6,"c":3863.9},
{"i":405,"o":3863.9,"h":3864.3,"l":3860.8,"c":3861.3},
{"i":406,"o":3861.3,"h":3862.7,"l":3859.0,"c":3862.2},
{"i":407,"o":3862.2,"h":3863.0,"l":3860.5,"c":3860.9},
{"i":408,"o":3860.9,"h":3862.6,"l":3860.4,"c":3862.3},
{"i":409,"o":3862.3,"h":3863.2,"l":3861.9,"c":3862.8},
{"i":410,"o":3862.8,"h":3863.4,"l":3861.6,"c":3861.9},
{"i":411,"o":3861.9,"h":3862.4,"l":3859.0,"c":3859.6},
{"i":412,"o":3859.6,"h":3861.4,"l":3859.2,"c":3861.1},
{"i":413,"o":3861.1,"h":3862.5,"l":3860.8,"c":3862.2},
{"i":414,"o":3862.2,"h":3863.6,"l":3861.9,"c":3863.3},
{"i":415,"o":3863.3,"h":3864.4,"l":3862.9,"c":3864.1},
{"i":416,"o":3864.1,"h":3864.6,"l":3863.3,"c":3863.6},
{"i":417,"o":3863.6,"h":3865.3,"l":3863.3,"c":3865.0},
{"i":418,"o":3865.0,"h":3866.2,"l":3864.7,"c":3865.9},
{"i":419,"o":3865.9,"h":3866.4,"l":3865.1,"c":3865.5},
{"i":420,"o":3865.5,"h":3866.9,"l":3865.2,"c":3866.6},
{"i":421,"o":3866.6,"h":3868.0,"l":3866.3,"c":3867.7},
{"i":422,"o":3867.7,"h":3868.4,"l":3867.0,"c":3867.3},
{"i":423,"o":3867.3,"h":3868.9,"l":3867.0,"c":3868.6},
{"i":424,"o":3868.6,"h":3869.6,"l":3868.1,"c":3869.2},
{"i":425,"o":3869.2,"h":3869.8,"l":3867.8,"c":3868.2},
{"i":426,"o":3868.2,"h":3875.3,"l":3867.9,"c":3870.5},
{"i":427,"o":3870.5,"h":3871.2,"l":3867.2,"c":3867.6},
{"i":428,"o":3867.6,"h":3868.6,"l":3866.4,"c":3866.8},
{"i":429,"o":3866.8,"h":3867.4,"l":3864.8,"c":3865.3},
{"i":430,"o":3865.3,"h":3866.3,"l":3864.6,"c":3865.9},
{"i":431,"o":3865.9,"h":3866.6,"l":3864.9,"c":3865.2},
{"i":432,"o":3865.2,"h":3865.8,"l":3863.3,"c":3863.6},
{"i":433,"o":3863.6,"h":3864.0,"l":3859.8,"c":3860.4},
{"i":434,"o":3860.4,"h":3862.6,"l":3858.3,"c":3862.2},
{"i":435,"o":3862.2,"h":3863.6,"l":3861.8,"c":3863.2},
{"i":436,"o":3863.2,"h":3863.8,"l":3861.0,"c":3861.5},
{"i":437,"o":3861.5,"h":3863.5,"l":3860.9,"c":3863.1},
{"i":438,"o":3863.1,"h":3864.3,"l":3862.8,"c":3863.9},
{"i":439,"o":3863.9,"h":3864.4,"l":3862.4,"c":3862.9},
{"i":440,"o":3862.9,"h":3863.6,"l":3861.7,"c":3862.0},
{"i":441,"o":3862.0,"h":3864.0,"l":3861.6,"c":3863.7},
{"i":442,"o":3863.7,"h":3864.3,"l":3862.6,"c":3862.9},
{"i":443,"o":3862.9,"h":3863.3,"l":3860.4,"c":3860.8},
{"i":444,"o":3860.8,"h":3862.5,"l":3860.4,"c":3862.1},
{"i":445,"o":3862.1,"h":3862.6,"l":3855.3,"c":3858.7},
{"i":446,"o":3858.7,"h":3861.8,"l":3858.3,"c":3861.5},
{"i":447,"o":3861.5,"h":3862.9,"l":3861.0,"c":3862.5},
{"i":448,"o":3862.5,"h":3863.1,"l":3861.4,"c":3861.8},
{"i":449,"o":3861.8,"h":3863.0,"l":3861.2,"c":3862.6},
{"i":450,"o":3862.6,"h":3863.2,"l":3860.6,"c":3861.0},
{"i":451,"o":3861.0,"h":3861.6,"l":3859.4,"c":3859.8},
{"i":452,"o":3859.8,"h":3861.5,"l":3859.4,"c":3861.1},
{"i":453,"o":3861.1,"h":3861.9,"l":3859.6,"c":3860.0},
{"i":454,"o":3860.0,"h":3860.6,"l":3857.9,"c":3858.3},
{"i":455,"o":3858.3,"h":3859.4,"l":3857.7,"c":3859.0},
{"i":456,"o":3859.0,"h":3859.5,"l":3857.6,"c":3857.9},
{"i":457,"o":3857.9,"h":3858.7,"l":3857.2,"c":3857.6},
{"i":458,"o":3857.6,"h":3859.4,"l":3857.4,"c":3859.1},
{"i":459,"o":3859.1,"h":3861.7,"l":3858.8,"c":3861.4},
{"i":460,"o":3861.4,"h":3863.8,"l":3861.1,"c":3863.5},
{"i":461,"o":3863.5,"h":3869.3,"l":3863.2,"c":3868.9},
{"i":462,"o":3868.9,"h":3869.4,"l":3863.1,"c":3863.5},
{"i":463,"o":3863.51,"h":3863.95,"l":3863.44,"c":3863.95}
],
"levels":[
{"level":"rezistence","p":3871.80,"label":"institucionální rezistence","val":"3871.80","pt":3872.77,"pb":3870.93},
{"level":"support","p":3793.50,"label":"institucionální support","val":"3793.50","pt":3794.42,"pb":3792.58}
],
"arrows":[
{"i0":276.1,"p0":3795.10,"i1":331.4,"p1":3838.95},
{"i0":331.4,"p0":3838.95,"i1":321.8,"p1":3835.82},
{"i0":331.4,"p0":3838.95,"i1":333.45,"p1":3834.24},
{"i0":438.4,"p0":3871.82,"i1":442.6,"p1":3865.26},
{"i0":442.6,"p0":3865.26,"i1":439.6,"p1":3867.24},
{"i0":442.6,"p0":3865.26,"i1":446.1,"p1":3867.4}
]
},
"layer":[
{"data":{"name":"candles"},
 "mark":{"type":"rule","color":"black","strokeWidth":1},
 "encoding":{
  "x":{"field":"i","type":"quantitative","scale":{"domain":[-0.875,582.125],"nice":false,"zero":false},
   "axis":{"orient":"bottom","title":null,"grid":false,"domain":false,"values":[0,24,48,72,96,120,144,168,192,216,240,264,288,312,336,360,384,408,432,456],"tickSize":5,"tickColor":"black","labelColor":"black","labelFont":"DejaVu Sans","labelFontSize":11,"labelAlign":"left","labelBaseline":"top","labelPadding":2,"labelOffset":-2,
   "labelExpr":"['29 Sep 2025','29 Sep 17:30','29 Sep 19:30','29 Sep 21:30','29 Sep 23:30','30 Sep 02:30','30 Sep 04:30','30 Sep 06:30','30 Sep 08:30','30 Sep 10:30','30 Sep 12:30','30 Sep 14:30','30 Sep 16:30','30 Sep 18:30','30 Sep 20:30','30 Sep 22:30','1 Oct 01:30','1 Oct 03:30','1 Oct 05:30','1 Oct 07:30'][round(datum.value/24)]"}},
  "y":{"field":"l","type":"quantitative","scale":{"domain":[3790.60,3879.88],"nice":false,"zero":false},
   "axis":{"orient":"right","title":null,"grid":false,"domain":false,"values":[3877.25,3873.40,3869.50,3865.65,3861.75,3857.90,3854.00,3850.15,3846.25,3842.40,3838.50,3834.65,3830.80,3826.90,3823.05,3819.15,3815.30,3811.40,3807.55,3803.65,3799.80,3795.90,3792.05],"format":".2f","tickSize":5,"tickColor":"black","labelColor":"black","labelFont":"DejaVu Sans","labelFontSize":11,"labelPadding":6}},
  "y2":{"field":"h"}}},
{"data":{"name":"candles"},
 "mark":{"type":"bar","size":2,"stroke":"black","strokeWidth":1},
 "encoding":{
  "x":{"field":"i","type":"quantitative"},
  "y":{"field":"o","type":"quantitative"},
  "y2":{"field":"c"},
  "fill":{"condition":{"test":"datum.c >= datum.o","value":"#32cd32"},"value":"#ff0000"}}},
{"data":{"name":"levels"},
 "mark":{"type":"rule","strokeWidth":4},
 "encoding":{"x":{"datum":229.4},"x2":{"datum":582.125},"y":{"field":"p","type":"quantitative"},
  "color":{"field":"level","type":"nominal","scale":{"domain":["rezistence","support"],"range":["#ff0000","#32cd32"]},"legend":null}}},
{"data":{"name":"levels"},
 "mark":{"type":"rule","strokeWidth":1},
 "encoding":{"x":{"datum":227.4},"x2":{"datum":229.6},"y":{"field":"p","type":"quantitative"},
  "color":{"field":"level","type":"nominal","legend":null}}},
{"data":{"name":"levels"},
 "mark":{"type":"rect","fill":"white","strokeWidth":1},
 "encoding":{"x":{"datum":208.9},"x2":{"datum":227.4},"y":{"field":"pt","type":"quantitative"},"y2":{"field":"pb"},
  "stroke":{"field":"level","type":"nominal","scale":{"domain":["rezistence","support"],"range":["#ff0000","#32cd32"]},"legend":null}}},
{"data":{"name":"levels"},
 "mark":{"type":"text","font":"DejaVu Sans","fontSize":17,"align":"center","baseline":"middle","dy":1},
 "encoding":{"x":{"datum":218.15},"y":{"field":"p","type":"quantitative"},"text":{"field":"val"},
  "color":{"field":"level","type":"nominal","legend":null}}},
{"data":{"name":"levels"},
 "mark":{"type":"text","font":"DejaVu Sans","fontSize":14.8,"align":"right","baseline":"middle","dy":1},
 "encoding":{"x":{"datum":204.9},"y":{"field":"p","type":"quantitative"},"text":{"field":"label"},
  "color":{"field":"level","type":"nominal","legend":null}}},
{"data":{"name":"arrows"},
 "mark":{"type":"rule","color":"black","strokeWidth":5,"strokeCap":"round"},
 "encoding":{"x":{"field":"i0","type":"quantitative"},"x2":{"field":"i1"},"y":{"field":"p0","type":"quantitative"},"y2":{"field":"p1"}}},
{"data":{"values":[{"i":243.2,"p":3793.76}]},
 "mark":{"type":"point","shape":"M0,-1A0.89,1 0 1,1 0,1A0.89,1 0 1,1 0,-1Z","size":3600,"filled":false,"stroke":"black","strokeWidth":4,"opacity":1},
 "encoding":{"x":{"field":"i","type":"quantitative"},"y":{"field":"p","type":"quantitative"}}},
{"data":{"values":[{"i":427.4,"p":3873.12}]},
 "mark":{"type":"point","shape":"M0,-1A0.565,1 0 1,1 0,1A0.565,1 0 1,1 0,-1Z","size":7225,"filled":false,"stroke":"black","strokeWidth":4,"opacity":1},
 "encoding":{"x":{"field":"i","type":"quantitative"},"y":{"field":"p","type":"quantitative"}}},
{"data":{"values":[{"i0":583.6,"i1":598.5,"pt":3864.39,"pb":3863.5}]},
 "mark":{"type":"rect","fill":"black","clip":false},
 "encoding":{"x":{"field":"i0","type":"quantitative"},"x2":{"field":"i1"},"y":{"field":"pt","type":"quantitative"},"y2":{"field":"pb"}}},
{"data":{"values":[{"pm":3863.95,"t":"3863.95"}]},
 "mark":{"type":"text","font":"DejaVu Sans","fontSize":11,"color":"white","align":"left","baseline":"middle"},
 "encoding":{"x":{"datum":585.0},"y":{"field":"pm","type":"quantitative"},"text":{"field":"t"}}},
{"data":{"values":[{"a":1}]},
 "mark":{"type":"text","font":"DejaVu Sans","fontSize":11.5,"lineHeight":12,"align":"left","baseline":"top","color":"black"},
 "encoding":{"x":{"datum":0.3},"y":{"datum":3879.5},
  "text":{"value":["▼ XAUUSD_ecn,M5  3863.51 3863.95 3863.44 3863.95","Institucionální objednávky pro trh: XAUUSD","Posledni aktualizace: 07:05","Expertní výhledy vydané: 30.09.2025","FXstreet.cz"]}}}
]
}
